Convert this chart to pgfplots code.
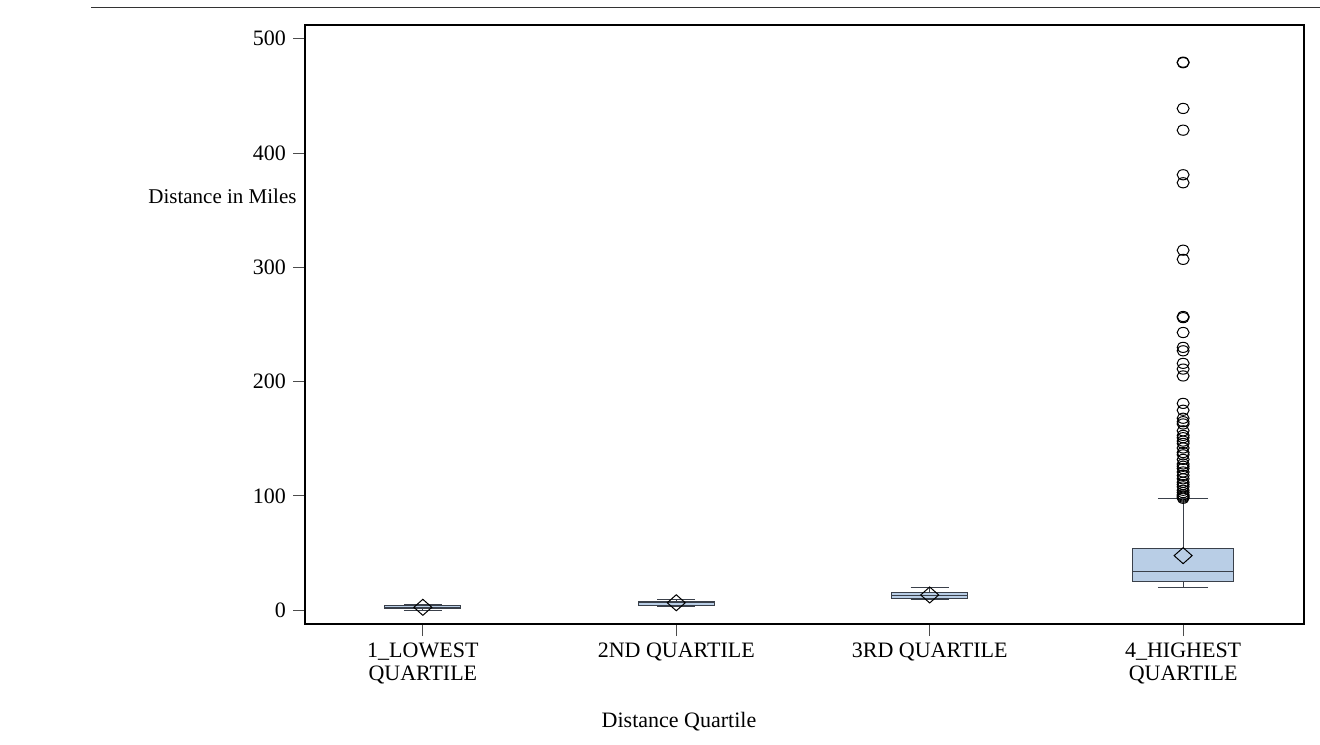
\documentclass[border=0pt]{standalone}
\usepackage{fontspec}
\setmainfont{Liberation Serif}
\usepackage{pgfplots}
\pgfplotsset{compat=1.18}
\usepgfplotslibrary{statistics}
\definecolor{boxfill}{RGB}{185,206,230}
\definecolor{boxedge}{RGB}{58,64,74}
\begin{document}
\begin{tikzpicture}
\useasboundingbox (0pt,0pt) rectangle (660pt,-372pt);
\draw[line width=0.6pt, black!80] (45.5pt,-3.6pt) -- (660pt,-3.6pt);
\begin{axis}[
  at={(152.5pt,-312pt)}, anchor=south west,
  scale only axis, width=499.5pt, height=299.5pt,
  xmin=-0.465, xmax=3.477, ymin=-12, ymax=512,
  axis line style={line width=0.6pt},
  boxplot/draw direction=y,
  xtick={0,1,2,3},
  xticklabels={{1\_LOWEST\\QUARTILE},{2ND QUARTILE},{3RD QUARTILE},{4\_HIGHEST\\QUARTILE}},
  xticklabel style={align=center, font=\fontsize{11}{11.5}\selectfont},
  ytick={0,100,200,300,400,500},
  yticklabel style={font=\fontsize{11}{12}\selectfont},
  /pgf/number format/assume math mode=true,
  tick align=outside, major tick length=6pt,
  xtick pos=bottom, ytick pos=left,
  tick style={line width=0.5pt, black!70},
  clip=false,
]
\addplot[boxplot/draw direction=y, boxplot prepared={draw position=0, lower whisker=0.1, lower quartile=1.2, median=2.6, upper quartile=4.1, upper whisker=4.9, box extend=0.3, whisker extend=0.15},
  fill=boxfill, draw=boxedge, line width=0.5pt] coordinates {};
\addplot[boxplot/draw direction=y, boxplot prepared={draw position=1, lower whisker=3.5, lower quartile=4.6, median=6.5, upper quartile=8.1, upper whisker=9.3, box extend=0.3, whisker extend=0.15},
  fill=boxfill, draw=boxedge, line width=0.5pt] coordinates {};
\addplot[boxplot/draw direction=y, boxplot prepared={draw position=2, lower whisker=9.4, lower quartile=10.5, median=13.0, upper quartile=16.0, upper whisker=20.3, box extend=0.3, whisker extend=0.15},
  fill=boxfill, draw=boxedge, line width=0.5pt] coordinates {};
\addplot[boxplot/draw direction=y, boxplot prepared={draw position=3, lower whisker=20.1, lower quartile=25.3, median=34.1, upper quartile=53.9, upper whisker=97.5, box extend=0.4, whisker extend=0.2},
  fill=boxfill, draw=boxedge, line width=0.5pt] coordinates {};
% means
\addplot[only marks, mark=diamond, mark size=4pt, mark options={xscale=1.5, draw=black, fill=none, line width=0.5pt}]
  coordinates {(0,2.6) (1,6.6) (2,13.4) (3,47.8)};
% outliers
\addplot[only marks, mark=o, mark size=3pt, mark options={yscale=0.85, draw=black, line width=0.5pt}]
  coordinates {
  (3,479) (3,479.5) (3,439) (3,420) (3,381) (3,374) (3,315) (3,307)
  (3,257) (3,256) (3,243) (3,230) (3,227) (3,216) (3,211) (3,205)
  (3,181) (3,175) (3,168) (3,165) (3,163) (3,157) (3,153) (3,151)
  (3,148) (3,146) (3,142) (3,138) (3,136) (3,132) (3,128) (3,126)
  (3,124) (3,121) (3,118) (3,115) (3,112) (3,110) (3,108) (3,105)
  (3,103) (3,101) (3,100) (3,99) (3,98)};
\end{axis}
\node[anchor=west, inner sep=0pt, font=\fontsize{10.5}{12}\selectfont] at (74pt,-98pt) {Distance in Miles};
\node[font=\fontsize{11}{12}\selectfont] at (339.5pt,-361pt) {Distance Quartile};
\end{tikzpicture}
\end{document}
